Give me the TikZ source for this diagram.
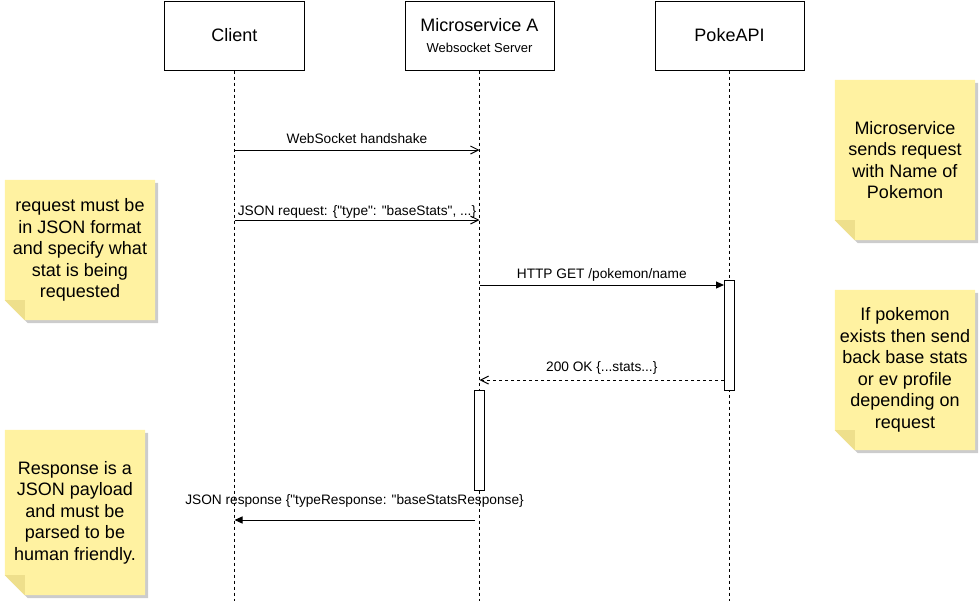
\documentclass[tikz,border=0pt]{standalone}
\usepackage{fontspec}
\setmainfont{Liberation Sans}[Ligatures=TeXOff]
\usepackage{tikz}
\usetikzlibrary{arrows.meta,shadows,backgrounds}
\definecolor{notefill}{HTML}{FFF2A1}
\definecolor{notefold}{HTML}{EEDF8C}
\tikzset{
  actor/.style={draw, line width=1pt, minimum height=69pt, align=center, font=\fontsize{18}{21.7}\selectfont},
  lifeline/.style={line width=1pt, dash pattern=on 3pt off 3pt},
  act/.style={draw, fill=white, line width=1pt, minimum width=10pt, inner sep=0pt},
  note/.style={align=center, inner sep=0pt, font=\fontsize{18}{21.5}\selectfont},
  openmsg/.style={line width=1pt, -{Straight Barb[length=8pt,width=8pt]}},
  retmsg/.style={openmsg, dash pattern=on 3pt off 3pt},
  syncmsg/.style={line width=1pt, -{Triangle[length=8pt,width=7pt]}},
  lbl/.style={midway, anchor=base, inner sep=0pt, font=\fontsize{13.7}{16}\selectfont}
}
\begin{document}
\begin{tikzpicture}[x=1pt,y=-1pt]
\useasboundingbox (0,0) rectangle (980,611);

% participants
\node[actor, minimum width=140pt] (client) at (234.5,35.5) {Client};
\node[actor, minimum width=149pt] (msa) at (479.5,35.5) {Microservice A\\{\fontsize{13}{21.7}\selectfont Websocket Server}};
\node[actor, minimum width=149pt] (poke) at (729.5,35.5) {PokeAPI};

\coordinate (client-end) at (234.5,601);
\coordinate (msa-end) at (479.5,601);
\coordinate (poke-end) at (729.5,601);
\draw[lifeline] (client) -- (client-end);
\draw[lifeline] (msa) -- (msa-end);
\draw[lifeline] (poke) -- (poke-end);

% activations
\node[act, minimum height=110pt] (pokeact) at (729.5,335) {};
\node[act, minimum height=100pt] (msaact) at (479.5,440) {};

% message ends
\coordinate (hs-c) at (234.5,150);
\coordinate (hs-m) at (479.5,150);
\coordinate (req-c) at (234.5,220);
\coordinate (req-m) at (479.5,220);
\coordinate (get-m) at (479.5,285);
\coordinate (ok-m) at (479.5,380);
\coordinate (resp-m) at (474.5,520);
\coordinate (resp-c) at (234.5,520);

\draw[openmsg] (hs-c) -- node[lbl, yshift=6.5pt] {WebSocket handshake} (hs-m);
\draw[openmsg] (req-c) -- node[lbl, yshift=5pt] {JSON request: \{"type": "baseStats", ...\}} (req-m);
\draw[syncmsg] (get-m) -- node[lbl, yshift=6.5pt] {HTTP GET /pokemon/name} (get-m -| pokeact.west);
\draw[retmsg] (ok-m -| pokeact.west) -- node[lbl, yshift=9pt] {200 OK \{...stats...\}} (ok-m);
\draw[syncmsg] (resp-m) -- node[lbl, yshift=16pt] {JSON response \{"typeResponse: "baseStatsResponse\}} (resp-c);

% notes
\node[note, minimum width=150pt, minimum height=140pt] (reqnote) at (80,250) {request must be\\in JSON format\\and specify what\\stat is being\\requested};
\node[note, minimum width=140pt, minimum height=165pt] (respnote) at (75,512.5) {Response is a\\JSON payload\\and must be\\parsed to be\\human friendly.};
\node[note, minimum width=140pt, minimum height=160pt] (sendnote) at (905,160) {Microservice\\sends request\\with Name of\\Pokemon};
\node[note, minimum width=140pt, minimum height=160pt] (existnote) at (905,370) {If pokemon\\exists then send\\back base stats\\or ev profile\\depending on\\request};

\begin{scope}[on background layer]
\foreach \n in {reqnote,respnote,sendnote,existnote} {
  \fill[notefill, drop shadow={shadow xshift=3pt, shadow yshift=-3pt, opacity=0.2, fill=black}]
    (\n.north west) -- (\n.north east) -- (\n.south east) -- ([xshift=20pt]\n.south west) -- ([yshift=20pt]\n.south west) -- cycle;
  \fill[notefold] ([yshift=20pt]\n.south west) -- ([xshift=20pt,yshift=20pt]\n.south west) -- ([xshift=20pt]\n.south west) -- cycle;
}
\end{scope}
\end{tikzpicture}
\end{document}
